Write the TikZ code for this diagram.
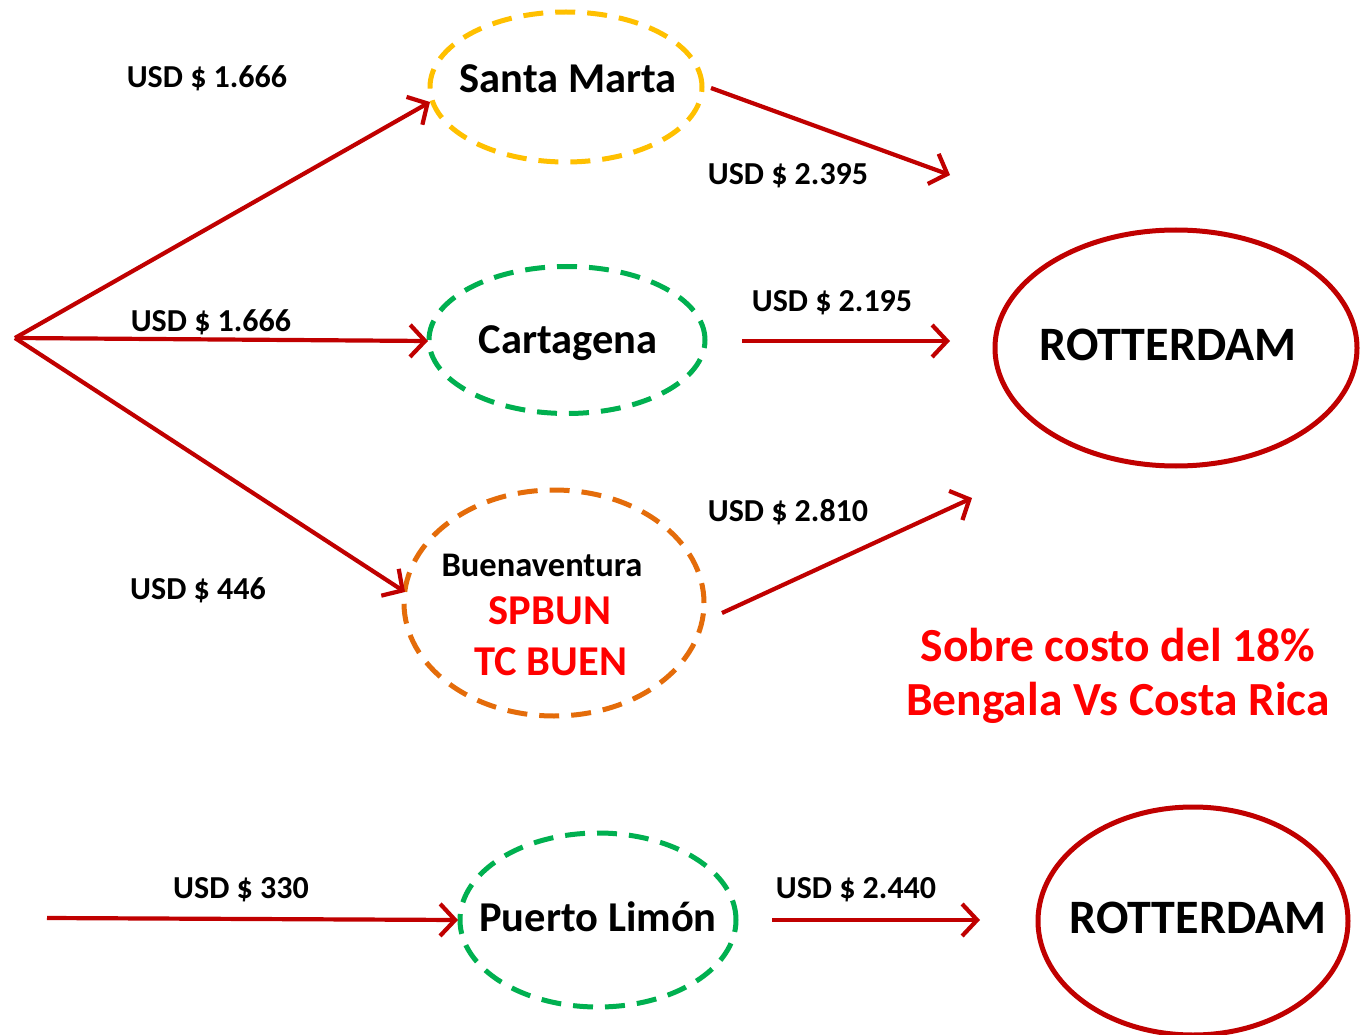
\documentclass[tikz,border=0pt]{standalone}
\usepackage{fontspec}
\setmainfont{Carlito}
\usetikzlibrary{shapes.geometric,arrows.meta}
\definecolor{dred}{HTML}{C00000}
\definecolor{myyellow}{HTML}{FFC000}
\definecolor{mygreen}{HTML}{00B050}
\definecolor{myorange}{HTML}{E46C0A}
\definecolor{myred}{HTML}{FF0000}
\begin{document}
\begin{tikzpicture}[x=1pt,y=-1pt,
  port/.style={ellipse,draw,line width=5pt,dash pattern=on 20pt off 12pt,inner sep=0pt},
  portlabel/.style={font=\bfseries\fontsize{42.5}{48}\selectfont,inner sep=0pt},
  dest/.style={ellipse,draw=dred,line width=5pt,inner sep=0pt},
  destlabel/.style={font=\bfseries\fontsize{48}{54}\selectfont,inner sep=0pt},
  price/.style={font=\bfseries\fontsize{32}{37}\selectfont,inner sep=0pt},
  route/.style={draw=dred,line width=4.2pt,-{Straight Barb[length=15pt,width=32pt,line width=4.2pt]}},
  note/.style={font=\bfseries\fontsize{47.5}{54}\selectfont,text=myred,inner sep=0pt}]
\useasboundingbox[fill=white] (0,0) rectangle (1361,1035);
% ports
\node[port,draw=myyellow,minimum width=272pt,minimum height=150pt] (sm) at (566,87) {};
\node[portlabel] (smt) at (568,79) {Santa Marta};
\node[port,draw=mygreen,minimum width=276pt,minimum height=147pt] (ca) at (567,340) {};
\node[portlabel] (cat) at (568,343) {Cartagena};
\node[port,draw=myorange,minimum width=300pt,minimum height=226pt] (bu) at (554,603) {};
\node[font=\bfseries\fontsize{34.5}{40}\selectfont,inner sep=0pt] (bun) at (542,565) {Buenaventura};
\node[font=\bfseries\fontsize{42.5}{48}\selectfont,text=myred,inner sep=0pt] (spb) at (550,611) {SPBUN};
\node[font=\bfseries\fontsize{42.5}{48}\selectfont,text=myred,inner sep=0pt] (tcb) at (551,662) {TC BUEN};
\node[port,draw=mygreen,minimum width=276pt,minimum height=174pt] (pl) at (598,920) {};
\node[portlabel] (plt) at (598,917) {Puerto Limón};
% destinations
\node[dest,minimum width=362pt,minimum height=236pt] (r1) at (1176,348) {};
\node[destlabel] (r1t) at (1168,345) {ROTTERDAM};
\node[dest,minimum width=310pt,minimum height=228pt] (r2) at (1193,921) {};
\node[destlabel] (r2t) at (1198,918) {ROTTERDAM};
% coordinates
\coordinate (o) at (15,338);
\coordinate (smin) at (430,102);
\coordinate (cain) at (428,341);
\coordinate (buin) at (405,592);
\coordinate (smout) at (711,88);
\coordinate (e1) at (950,175);
\coordinate (caout) at (742,341);
\coordinate (e2) at (950,341);
\coordinate (buout) at (722,613);
\coordinate (e3) at (972,498);
\coordinate (s4) at (47,918);
\coordinate (plin) at (458,920);
\coordinate (plout) at (772,920);
\coordinate (e4) at (980,920);
% routes
\draw[route] (o) -- (smin);
\draw[route] (o) -- (cain);
\draw[route] (o) -- (buin);
\draw[route] (smout) -- (e1);
\draw[route] (caout) -- (e2);
\draw[route] (buout) -- (e3);
\draw[route] (s4) -- (plin);
\draw[route] (plout) -- (e4);
% prices
\node[price] (p1) at (207,78) {USD \$ 1.666};
\node[price] (p2) at (788,176) {USD \$ 2.395};
\node[price] (p3) at (211,322) {USD \$ 1.666};
\node[price] (p4) at (832,303) {USD \$ 2.195};
\node[price] (p5) at (788,512) {USD \$ 2.810};
\node[price] (p6) at (198,590) {USD \$ 446};
\node[price] (p7) at (241,890) {USD \$ 330};
\node[price] (p8) at (856,890) {USD \$ 2.440};
% note
\node[note] (n1) at (1118,645) {Sobre costo del 18\%};
\node[note] (n2) at (1118,703) {Bengala Vs Costa Rica};
\end{tikzpicture}
\end{document}
